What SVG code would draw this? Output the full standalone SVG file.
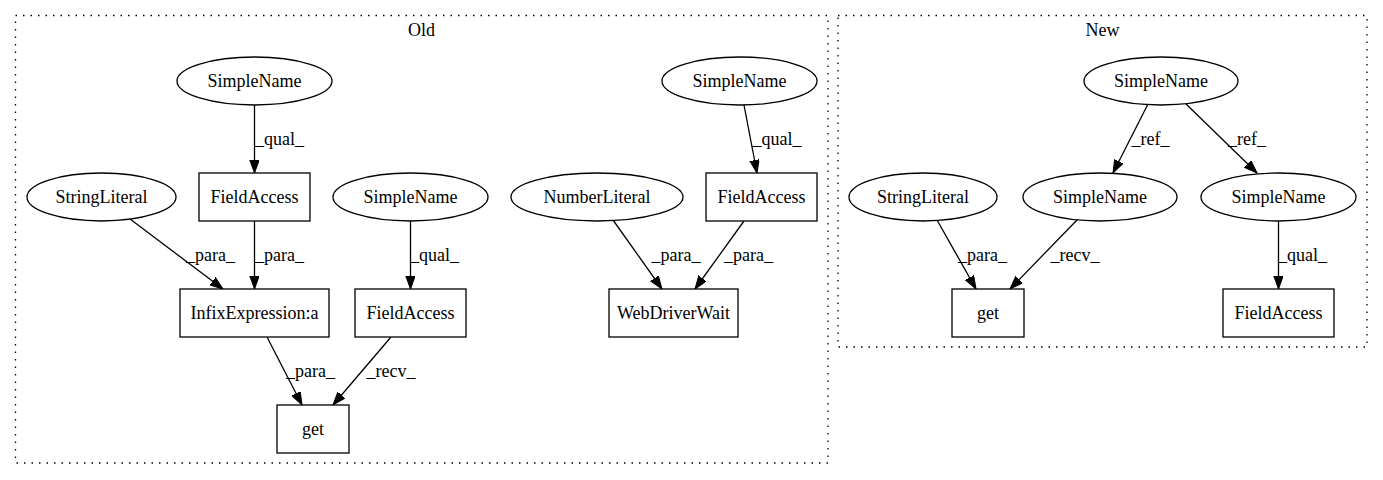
<svg xmlns="http://www.w3.org/2000/svg" width="1383" height="480" viewBox="0 0 1383 480">
  <style>
    text { font-family: "Liberation Serif", "Times New Roman", serif; font-size: 18px; fill: #000; }
    .lbl { text-anchor: middle; }
    .node ellipse, .node rect { fill: #fff; stroke: #000; stroke-width: 1.3; }
    .cluster rect { fill: none; stroke: #000; stroke-width: 1.3; stroke-dasharray: 1.5 6; }
    .edges line { stroke: #000; stroke-width: 1.3; marker-end: url(#arrow); }
  </style>
  <defs>
    <marker id="arrow" markerUnits="userSpaceOnUse" markerWidth="14" markerHeight="10" refX="13" refY="4.7" orient="auto">
      <path d="M0,0 L13,4.7 L0,9.4 z" fill="#000" stroke="#000" stroke-width="1"/>
    </marker>
  </defs>
  <rect width="1383" height="480" fill="#fff"/>

  <!-- clusters -->
  <g id="cluster_old" class="cluster">
    <rect x="15.5" y="15.5" width="812.5" height="447.5"/>
    <text class="lbl" x="421.5" y="36">Old</text>
  </g>
  <g id="cluster_new" class="cluster">
    <rect x="838" y="15.5" width="529" height="331.5"/>
    <text class="lbl" x="1102.5" y="36">New</text>
  </g>

  <!-- connectors -->
  <g id="edges" class="edges">
    <line x1="254.5" y1="105" x2="254.5" y2="173"/>
    <text x="255" y="145">_qual_</text>
    <line x1="130" y1="219" x2="223" y2="289"/>
    <text x="186" y="261">_para_</text>
    <line x1="254.5" y1="221" x2="254.5" y2="289"/>
    <text x="255" y="261">_para_</text>
    <line x1="410.5" y1="221" x2="410.5" y2="289"/>
    <text x="410" y="261">_qual_</text>
    <line x1="267" y1="337" x2="302" y2="405"/>
    <text x="286" y="377">_para_</text>
    <line x1="391" y1="337" x2="333" y2="405"/>
    <text x="366.5" y="377">_recv_</text>
    <line x1="744" y1="105" x2="757" y2="173"/>
    <text x="752.5" y="145">_qual_</text>
    <line x1="613" y1="220" x2="662" y2="289"/>
    <text x="651.5" y="261">_para_</text>
    <line x1="744" y1="221" x2="695" y2="289"/>
    <text x="724" y="261">_para_</text>

    <line x1="1148" y1="104" x2="1113" y2="173"/>
    <text x="1131.5" y="145">_ref_</text>
    <line x1="1185" y1="103" x2="1257" y2="173"/>
    <text x="1228" y="145">_ref_</text>
    <line x1="937" y1="220" x2="976" y2="289"/>
    <text x="958" y="261">_para_</text>
    <line x1="1078" y1="219" x2="1010" y2="289"/>
    <text x="1050.5" y="261">_recv_</text>
    <line x1="1278.5" y1="221" x2="1278.5" y2="289"/>
    <text x="1278" y="261">_qual_</text>
  </g>

  <!-- Old -->
  <g id="old_simplename_a" class="node">
    <ellipse cx="254.5" cy="81" rx="77.5" ry="24"/>
    <text class="lbl" x="254.5" y="87">SimpleName</text>
  </g>
  <g id="old_fieldaccess_a" class="node">
    <rect x="199" y="173" width="111" height="48"/>
    <text class="lbl" x="254.5" y="203">FieldAccess</text>
  </g>
  <g id="old_stringliteral" class="node">
    <ellipse cx="101.5" cy="197" rx="74.5" ry="24"/>
    <text class="lbl" x="101.5" y="203">StringLiteral</text>
  </g>
  <g id="old_simplename_b" class="node">
    <ellipse cx="410.5" cy="197" rx="77.5" ry="24"/>
    <text class="lbl" x="410.5" y="203">SimpleName</text>
  </g>
  <g id="old_infix" class="node">
    <rect x="180" y="289" width="149" height="48"/>
    <text class="lbl" x="254.5" y="319">InfixExpression:a</text>
  </g>
  <g id="old_fieldaccess_b" class="node">
    <rect x="355" y="289" width="111" height="48"/>
    <text class="lbl" x="410.5" y="319">FieldAccess</text>
  </g>
  <g id="old_get" class="node">
    <rect x="277" y="405" width="72" height="48"/>
    <text class="lbl" x="313" y="435">get</text>
  </g>
  <g id="old_simplename_c" class="node">
    <ellipse cx="739.5" cy="81" rx="77.5" ry="24"/>
    <text class="lbl" x="739.5" y="87">SimpleName</text>
  </g>
  <g id="old_numberliteral" class="node">
    <ellipse cx="597" cy="197" rx="86" ry="24"/>
    <text class="lbl" x="597" y="203">NumberLiteral</text>
  </g>
  <g id="old_fieldaccess_c" class="node">
    <rect x="706" y="173" width="111" height="48"/>
    <text class="lbl" x="761.5" y="203">FieldAccess</text>
  </g>
  <g id="old_webdriverwait" class="node">
    <rect x="609" y="289" width="129" height="48"/>
    <text class="lbl" x="673.5" y="319">WebDriverWait</text>
  </g>

  <!-- New -->
  <g id="new_simplename_top" class="node">
    <ellipse cx="1161" cy="81" rx="77" ry="24"/>
    <text class="lbl" x="1161" y="87">SimpleName</text>
  </g>
  <g id="new_stringliteral" class="node">
    <ellipse cx="923" cy="197" rx="74" ry="24"/>
    <text class="lbl" x="923" y="203">StringLiteral</text>
  </g>
  <g id="new_simplename_mid" class="node">
    <ellipse cx="1100" cy="197" rx="77" ry="24"/>
    <text class="lbl" x="1100" y="203">SimpleName</text>
  </g>
  <g id="new_simplename_right" class="node">
    <ellipse cx="1278.5" cy="197" rx="77.5" ry="24"/>
    <text class="lbl" x="1278.5" y="203">SimpleName</text>
  </g>
  <g id="new_get" class="node">
    <rect x="952" y="289" width="72" height="48"/>
    <text class="lbl" x="988" y="319">get</text>
  </g>
  <g id="new_fieldaccess" class="node">
    <rect x="1223" y="289" width="111" height="48"/>
    <text class="lbl" x="1278.5" y="319">FieldAccess</text>
  </g>
</svg>
